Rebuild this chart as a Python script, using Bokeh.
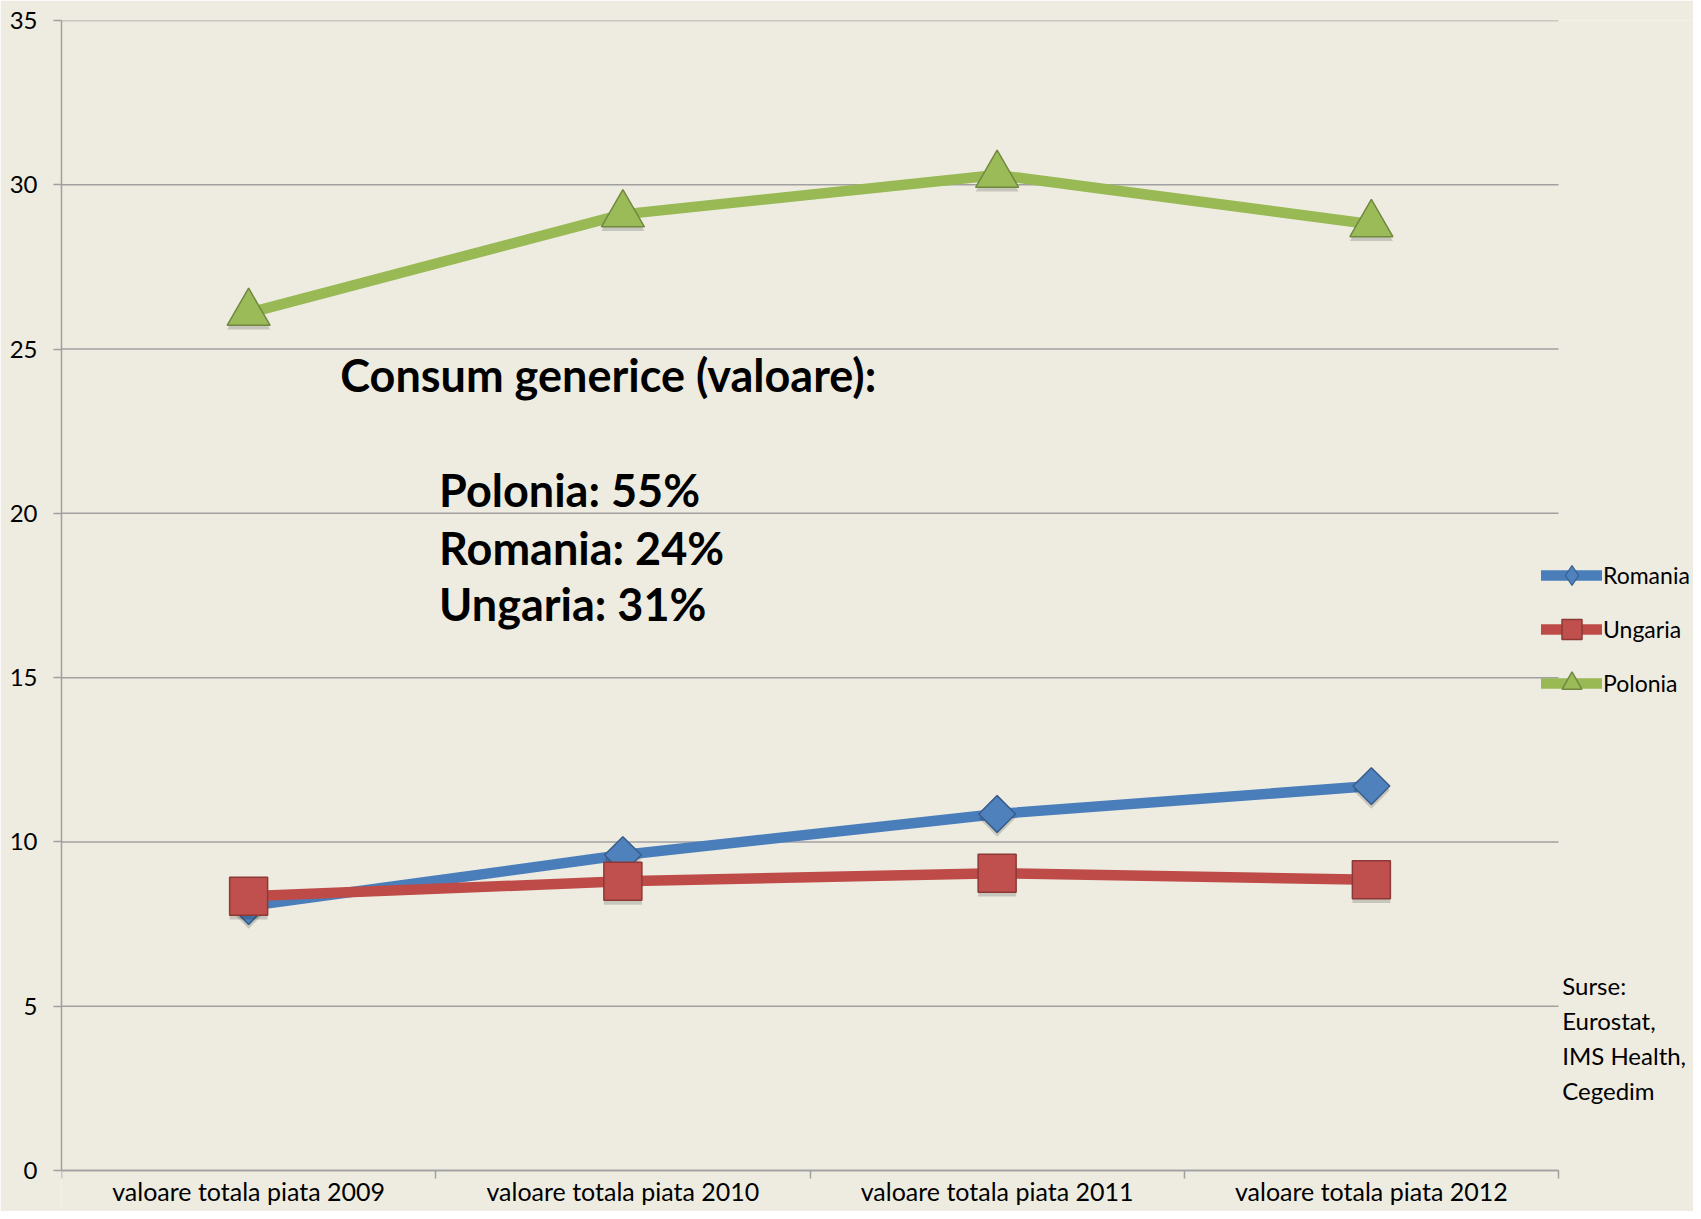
import math
from bokeh.plotting import figure
from bokeh.models import FixedTicker, Label, Legend, LegendItem, Range1d, ColumnDataSource
from bokeh.transform import dodge
from bokeh.embed import file_html
from bokeh.resources import INLINE

# ---- data ----
categories = ["valoare totala piata 2009", "valoare totala piata 2010",
              "valoare totala piata 2011", "valoare totala piata 2012"]
romania = [8.05, 9.6, 10.85, 11.7]
ungaria = [8.35, 8.8, 9.05, 8.85]
polonia = [26.1, 29.1, 30.3, 28.8]
y_ticks = [0, 5, 10, 15, 20, 25, 30, 35]
annotation_title = "Consum generice (valoare):"
annotation_lines = ["Polonia: 55%", "Romania: 24%", "Ungaria: 31%"]
source_text = "Surse:\nEurostat,\nIMS Health,\nCegedim"

n = len(categories)
x = [i + 0.5 for i in range(n)]
boundaries = list(range(n + 1))

BG = "#EEECE1"
GRID = "#A0A0A0"
FONT = "Lato"

W, H = 1693, 1211
LEFT, TOP = 61, 20
PLOT_RIGHT, PLOT_BOTTOM = 1558, 1170   # where the category axis / zero line sit (px)
x_end = n * (W - LEFT) / (PLOT_RIGHT - LEFT)
px_per_unit = (PLOT_BOTTOM - TOP) / (y_ticks[-1] - y_ticks[0])
y_start = y_ticks[0] - (H - PLOT_BOTTOM) / px_per_unit

p = figure(width=W, height=H, output_backend="svg", toolbar_location=None,
           title=None,
           x_range=Range1d(0, x_end), y_range=Range1d(y_start, y_ticks[-1]),
           background_fill_color=BG, border_fill_color=BG,
           min_border_left=LEFT, min_border_right=0, min_border_top=TOP,
           min_border_bottom=0)
p.outline_line_color = None

# axes
p.xaxis.fixed_location = y_ticks[0]
p.xaxis.ticker = FixedTicker(ticks=x, minor_ticks=boundaries)
p.xaxis.bounds = (0, n)
p.xaxis.major_label_overrides = {xv: c for xv, c in zip(x, categories)}
p.xaxis.major_tick_out = 0
p.xaxis.major_tick_in = 0
p.xaxis.minor_tick_out = 8
p.xaxis.minor_tick_in = 0
p.xaxis.minor_tick_line_color = GRID
p.xaxis.minor_tick_line_width = 1.5
p.xaxis.axis_line_color = GRID
p.xaxis.axis_line_width = 1.5
p.xaxis.major_label_standoff = -3
p.xaxis.major_label_text_font = FONT
p.xaxis.major_label_text_font_size = "25px"
p.xaxis.major_label_text_color = "#000000"

p.yaxis.bounds = (y_ticks[0], y_ticks[-1])
p.yaxis.ticker = FixedTicker(ticks=y_ticks)
p.yaxis.major_tick_out = 8
p.yaxis.major_tick_in = 0
p.yaxis.major_tick_line_color = GRID
p.yaxis.major_tick_line_width = 1.5
p.yaxis.minor_tick_line_color = None
p.yaxis.axis_line_color = GRID
p.yaxis.axis_line_width = 1.5
p.yaxis.major_label_standoff = 16
p.yaxis.major_label_text_font = FONT
p.yaxis.major_label_text_font_size = "24px"
p.yaxis.major_label_text_color = "#000000"

p.xgrid.visible = False
p.ygrid.visible = False
# horizontal gridlines limited to the category span
p.segment(x0=0, x1=n, y0=y_ticks, y1=y_ticks, line_color=GRID, line_width=1.5)

series = [
    ("Romania", romania, "#4A7EBB", "#4F81BD", "#385D8A", "square", 26, math.pi / 4, "diamond"),
    ("Ungaria", ungaria, "#BE4B48", "#C0504D", "#8C3836", "square", 38, 0.0, None),
    ("Polonia", polonia, "#98B954", "#9BBB59", "#71893F", "triangle", 43, 0.0, None),
]

items = []
for name, vals, lc, fc, oc, marker, size, angle, legend_marker in series:
    src = ColumnDataSource(dict(x=x, y=vals))
    ln = p.line("x", "y", source=src, line_color=lc, line_width=10.5,
                line_cap="round", line_join="round")
    # soft drop shadow under markers
    p.scatter("x", dodge("y", -0.13), source=src, marker=marker, size=size, angle=angle,
              fill_color="#000000", fill_alpha=0.16, line_color=None)
    rends = [ln]
    if legend_marker:
        # legend-shaped marker, hidden beneath the main marker in the plot
        lm = p.scatter("x", "y", source=src, marker=legend_marker, size=size * 1.35,
                       fill_color=fc, line_color=oc, line_width=1.2)
        rends.append(lm)
    mk = p.scatter("x", "y", source=src, marker=marker, size=size, angle=angle,
                   fill_color=fc, line_color=oc, line_width=1.5)
    if not legend_marker:
        rends.append(mk)
    items.append(LegendItem(label=name, renderers=rends))

legend = Legend(items=items, location=(1480, 503), orientation="vertical",
                background_fill_alpha=0, border_line_color=None, padding=0, margin=0,
                spacing=4, glyph_width=61, glyph_height=50, label_standoff=1,
                label_text_font=FONT, label_text_font_size="23px", label_text_color="#000000")
p.add_layout(legend)

# annotations
p.add_layout(Label(x=0.745, y=24.2, text=annotation_title, text_font=FONT,
                   text_font_style="bold", text_font_size="45px", text_color="#000000",
                   text_baseline="alphabetic"))
for txt, yy in zip(annotation_lines, [20.72, 18.95, 17.24]):
    p.add_layout(Label(x=1.009, y=yy, text=txt, text_font=FONT,
                       text_font_style="bold", text_font_size="45px", text_color="#000000",
                       text_baseline="alphabetic"))

p.add_layout(Label(x=4.01, y=6.06, text=source_text, text_font=FONT,
                   text_font_size="24px", text_color="#000000", text_baseline="top",
                   text_line_height=1.2))

open("out.html", "w").write(file_html(p, INLINE))
